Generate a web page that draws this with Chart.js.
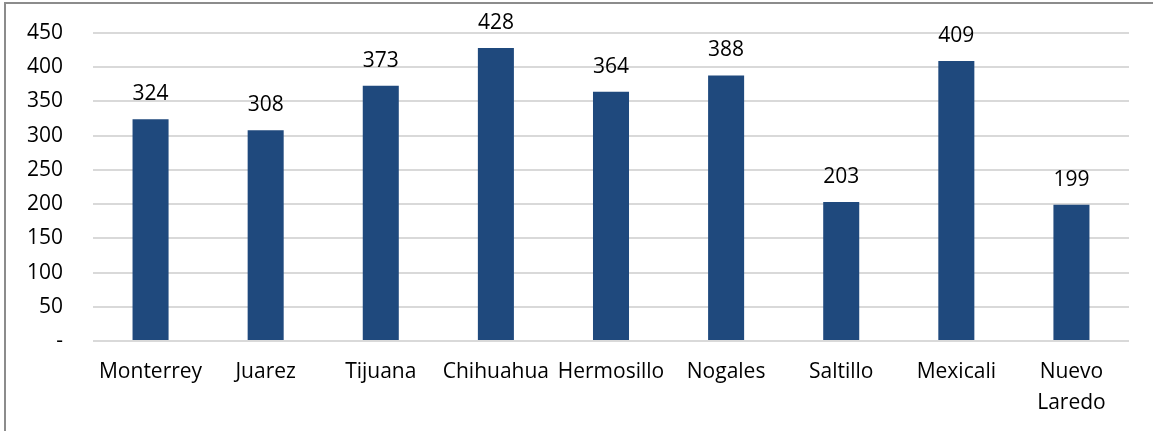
<!DOCTYPE html>
<html>
<head>
<meta charset="utf-8">
<script src="https://cdn.jsdelivr.net/npm/chart.js@4/dist/chart.umd.min.js"></script>
<style>
    html, body { margin: 0; padding: 0; background: #fff; overflow: hidden; }
    #frame { position: absolute; left: 4px; top: 2px; width: 1200px; height: 500px; border: 2px solid #8c8c8c; }
    #wrap { position: absolute; left: 0; top: 0; width: 1153px; height: 431px; }
</style>
</head>
<body>
<div id="frame"></div>
<div id="wrap"><canvas id="chart"></canvas></div>
<script>
const cities = ['Monterrey', 'Juarez', 'Tijuana', 'Chihuahua', 'Hermosillo', 'Nogales', 'Saltillo', 'Mexicali', ['Nuevo', 'Laredo']];
const counts = [324, 308, 373, 428, 364, 388, 203, 409, 199];
const yTicks = [0, 50, 100, 150, 200, 250, 300, 350, 400, 450];

const FONT = "'Open Sans', 'Noto Sans', sans-serif";

// number above each bar
const valueLabels = {
    id: 'valueLabels',
    afterDatasetsDraw(chart) {
        const ctx = chart.ctx;
        const meta = chart.getDatasetMeta(0);
        ctx.save();
        ctx.font = '21px ' + FONT;
        ctx.fillStyle = '#000';
        ctx.textAlign = 'center';
        ctx.textBaseline = 'middle';
        meta.data.forEach((bar, i) => {
            ctx.fillText(String(counts[i]), bar.x, bar.y - 25);
        });
        ctx.restore();
    }
};

const ctx = document.getElementById('chart').getContext('2d');
new Chart(ctx, {
    type: 'bar',
    data: {
        labels: cities,
        datasets: [{
            data: counts,
            backgroundColor: '#1F497D',
            categoryPercentage: 1,
            barPercentage: 0.313
        }]
    },
    options: {
        responsive: true,
        maintainAspectRatio: false,
        animation: false,
        layout: { padding: { top: 33, right: 24, left: 0, bottom: 0 } },
        plugins: { legend: { display: false }, tooltip: { enabled: false } },
        scales: {
            x: {
                grid: { display: false, drawTicks: false },
                border: { display: false },
                ticks: { color: '#000', font: { family: FONT, size: 21, lineHeight: 1.45 }, padding: 16, maxRotation: 0, autoSkip: false },
                afterFit(scale) { scale.height = 90; }
            },
            y: {
                min: 0,
                max: 450,
                afterBuildTicks(scale) { scale.ticks = yTicks.map(v => ({ value: v })); },
                grid: { color: '#d9d9d9', lineWidth: 2, drawTicks: false },
                border: { display: false },
                ticks: {
                    color: '#000',
                    font: { family: FONT, size: 21 },
                    padding: 30,
                    callback: v => v === 0 ? '-' : String(v)
                },
                afterFit(scale) {
                    scale.width = 93;
                    scale.paddingTop = 0;
                    scale.paddingBottom = 0;
                }
            }
        }
    },
    plugins: [valueLabels]
});
</script>
</body>
</html>
